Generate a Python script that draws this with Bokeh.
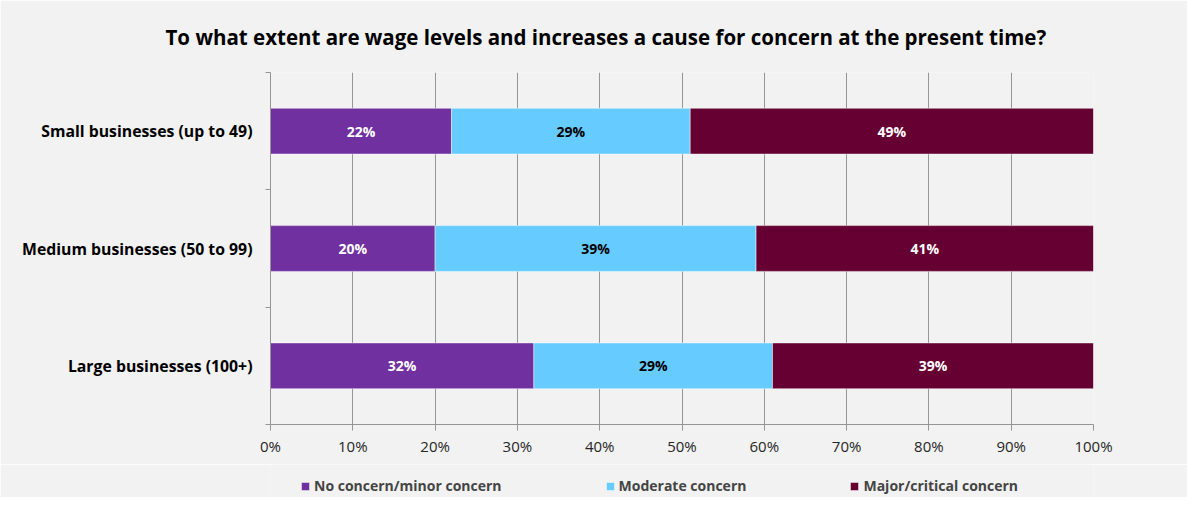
import numpy as np
from bokeh.plotting import figure
from bokeh.layouts import column
from bokeh.models import (Range1d, FixedTicker, Legend, LegendItem, ColumnDataSource, LabelSet)
from bokeh.core.properties import value
from bokeh.embed import file_html
from bokeh.resources import INLINE

# ---- data ----
categories = ["Large businesses (100+)", "Medium businesses (50 to 99)", "Small businesses (up to 49)"]
series_names = ["No concern/minor concern", "Moderate concern", "Major/critical concern"]
no_concern = [32, 20, 22]
moderate = [29, 39, 29]
major = [39, 41, 49]
x_ticks = [0, 10, 20, 30, 40, 50, 60, 70, 80, 90, 100]
x_tick_labels = ["0%", "10%", "20%", "30%", "40%", "50%", "60%", "70%", "80%", "90%", "100%"]
title_text = "To what extent are wage levels and increases a cause for concern at the present time?"

colors = ["#7030a0", "#66ccff", "#660033"]
label_colors = ["white", "black", "white"]
FONT = "Open Sans"
BG = "#f2f2f2"
GRID = "#959595"
W = 1187
LEFT = 270
FRAME_W = 823
RIGHT = W - LEFT - FRAME_W
TOP = 72
FRAME_H = 352
BOTTOM = 40
H_LEG = 497 - (TOP + FRAME_H + BOTTOM)

# ---- main chart ----
p = figure(frame_width=FRAME_W, frame_height=FRAME_H,
           x_range=Range1d(0, 100), y_range=Range1d(0, len(categories)),
           output_backend="svg", toolbar_location=None,
           min_border_left=LEFT, min_border_right=RIGHT, min_border_top=TOP,
           min_border_bottom=BOTTOM,
           background_fill_color=BG, border_fill_color=BG)
p.outline_line_color = None

ypos = np.arange(len(categories)) + 0.5
series = [no_concern, moderate, major]
left = np.zeros(len(categories))
for vals, col, lcol in zip(series, colors, label_colors):
    vals = np.array(vals, dtype=float)
    right = left + vals
    src = ColumnDataSource(dict(y=ypos, left=left, right=right,
                                mid=(left + right) / 2, txt=[f"{int(v)}%" for v in vals]))
    p.hbar(y="y", left="left", right="right", height=0.39, source=src,
           fill_color=col, line_color="white", line_alpha=0.45, line_width=1)
    p.add_layout(LabelSet(x="mid", y="y", text="txt", source=src, text_align="center",
                          text_baseline="middle", text_color=lcol, text_font=value(FONT),
                          text_font_style="bold", text_font_size="14px"))
    left = right

# x axis
p.xaxis.ticker = FixedTicker(ticks=x_ticks)
p.xaxis.major_label_overrides = {t: l for t, l in zip(x_ticks, x_tick_labels)}
p.xaxis.axis_line_color = GRID
p.xaxis.major_tick_line_color = GRID
p.xaxis.major_tick_out = 6
p.xaxis.major_tick_in = 0
p.xaxis.minor_tick_line_color = None
p.xaxis.major_label_text_font = FONT
p.xaxis.major_label_text_font_size = "15px"
p.xaxis.major_label_text_color = "#262626"
p.xaxis.major_label_standoff = 5

# y axis
p.yaxis.ticker = FixedTicker(ticks=list(ypos), minor_ticks=list(range(len(categories) + 1)))
p.yaxis.major_label_overrides = {float(y): c for y, c in zip(ypos, categories)}
p.yaxis.axis_line_color = GRID
p.yaxis.major_tick_line_color = None
p.yaxis.major_tick_out = 0
p.yaxis.major_tick_in = 0
p.yaxis.minor_tick_line_color = GRID
p.yaxis.minor_tick_out = 5
p.yaxis.minor_tick_in = 0
p.yaxis.major_label_text_font = FONT
p.yaxis.major_label_text_font_style = "bold"
p.yaxis.major_label_text_font_size = "15.8px"
p.yaxis.major_label_text_color = "black"
p.yaxis.major_label_standoff = 13

p.xgrid.ticker = FixedTicker(ticks=x_ticks)
p.xgrid.grid_line_color = GRID
p.ygrid.grid_line_color = None

# title
p.title.text = title_text
p.title.align = "left"
p.title.offset = -105
p.title.vertical_align = "middle"
p.title.text_font = FONT
p.title.text_font_size = "20.5px"
p.title.text_font_style = "bold"
p.title.text_color = "black"
p.title.standoff = 42

# ---- legend strip (same horizontal structure as the chart) ----
pl = figure(frame_width=FRAME_W, frame_height=H_LEG, x_range=Range1d(0, FRAME_W),
            y_range=Range1d(0, H_LEG), output_backend="svg", toolbar_location=None,
            x_axis_type=None, y_axis_type=None,
            min_border_left=LEFT, min_border_right=RIGHT, min_border_top=0, min_border_bottom=0,
            background_fill_color=BG, border_fill_color=BG)
pl.outline_line_color = None
pl.grid.grid_line_color = None
# legend proxies: one row each, placed outside the strip's visible range
leg_renderers = [pl.hbar(y=[-100], left=[0], right=[1], height=1, fill_color=c,
                         line_color="white", line_alpha=0.45) for c in colors]
items = [LegendItem(label=n, renderers=[r]) for n, r in zip(series_names, leg_renderers)]
legend = Legend(items=items, orientation="horizontal", location=(30, 2),
                glyph_width=10, glyph_height=10, label_standoff=4, spacing=103,
                padding=0, margin=0, background_fill_alpha=0, border_line_color=None,
                label_text_font=FONT, label_text_font_style="bold", label_text_font_size="14px",
                label_height=16)
pl.add_layout(legend, "center")

layout = column(p, pl, spacing=0)
open("out.html", "w").write(file_html(layout, INLINE))
